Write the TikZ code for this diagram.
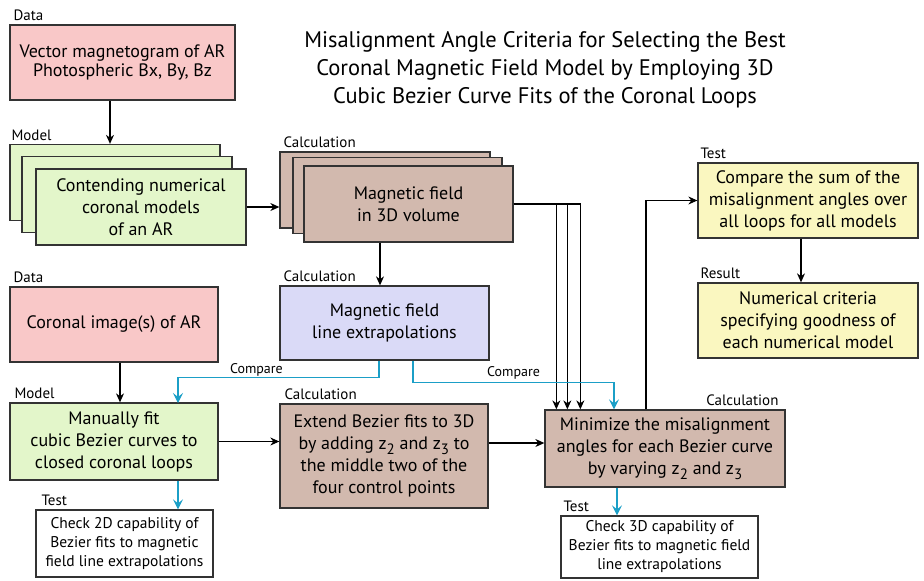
\documentclass[tikz,border=0pt]{standalone}
\usepackage{fontspec}
\setmainfont{PT Sans}
\usetikzlibrary{positioning, calc, arrows.meta}

\definecolor{pinkbox}{HTML}{F9C8C8}
\definecolor{greenbox}{HTML}{E3F6CA}
\definecolor{brownbox}{HTML}{D2B9AE}
\definecolor{lavbox}{HTML}{DADAF7}
\definecolor{yellowbox}{HTML}{FAF7C0}
\definecolor{cmpblue}{HTML}{1B9FC7}

\newcommand{\lowidx}[1]{\raisebox{-0.55ex}{\fontsize{15}{15}\selectfont #1}}

\begin{document}
\begin{tikzpicture}[
            x=1pt, y=-1pt,
            >={Stealth[length=9pt, width=8pt]},
            box/.style={rectangle, draw=black!80, line width=1.3pt, align=center, inner sep=2pt, font=\fontsize{18}{22}\selectfont},
            databox/.style={box, fill=pinkbox},
            modelbox/.style={box, fill=greenbox},
            calcbox/.style={box, fill=brownbox},
            linebox/.style={box, fill=lavbox},
            testbox/.style={box, fill=yellowbox},
            checkbox/.style={box, fill=white, font=\fontsize{15.5}{19}\selectfont},
            tag/.style={font=\fontsize{15}{17}\selectfont, inner sep=1pt, anchor=south west},
            flow/.style={->, line width=1.1pt},
            cmp/.style={->, line width=1.1pt, draw=cmpblue, >={Stealth[length=10pt, width=10pt, inset=4pt]}}
        ]
            \useasboundingbox (0,0) rectangle (924,581);

            % --- 1. title ---
            \node[align=center, font=\fontsize{22.5}{28}\selectfont] (title) at (545,70)
              {Misalignment Angle Criteria for Selecting the Best\\Coronal Magnetic Field Model by Employing 3D\\Cubic Bezier Curve Fits  of the Coronal Loops};

            % --- 2. boxes ---
            \node[databox, minimum width=225pt, minimum height=75pt, font=\fontsize{18}{19.5}\selectfont] (vecmag) at (122.5,62.5) {Vector magnetogram of AR\\Photospheric Bx, By, Bz};

            \node[modelbox, minimum width=210pt, minimum height=76pt] (models3) at (115,182.5) {};
            \node[modelbox, minimum width=210pt, minimum height=76pt] (models2) at (127,194.5) {};
            \node[modelbox, minimum width=210pt, minimum height=76pt] (models) at (141,207) {Contending numerical\\coronal models\\of an AR};

            \node[calcbox, minimum width=210pt, minimum height=76pt] (bfield3) at (385,190) {};
            \node[calcbox, minimum width=209pt, minimum height=76pt] (bfield2) at (397.5,195.5) {};
            \node[calcbox, minimum width=209pt, minimum height=76pt] (bfield) at (408.5,204) {Magnetic field\\in 3D volume};

            \node[linebox, minimum width=209pt, minimum height=74pt] (fieldlines) at (384.5,323) {Magnetic field\\line extrapolations};
            \node[databox, minimum width=208pt, minimum height=75pt] (corimg) at (114,324.5) {Coronal image(s)  of AR};

            \node[modelbox, minimum width=208pt, minimum height=77pt] (bezier) at (114,441.5) {Manually fit\\cubic Bezier  curves to\\closed coronal loops};
            \node[calcbox, minimum width=208pt, minimum height=104pt] (extend) at (384,456)
              {Extend Bezier fits to  3D\\by adding z\lowidx{2}  and z\lowidx{3}  to\\the middle  two of the\\four control points};
            \node[calcbox, minimum width=240pt, minimum height=77pt] (minimize) at (665,448.5)
              {Minimize the misalignment\\angles for each Bezier curve\\by varying z\lowidx{2} and  z\lowidx{3}};

            \node[testbox, minimum width=220pt, minimum height=75pt] (compare) at (808,200.5) {Compare the sum of the\\misalignment angles over\\all loops for all models};
            \node[testbox, minimum width=220pt, minimum height=75pt] (criteria) at (808,320.5) {Numerical criteria\\specifying goodness of\\each numerical model};

            \node[checkbox, minimum width=177pt, minimum height=67pt] (check2d) at (124.5,543.5) {Check 2D capability of\\Bezier fits to magnetic\\field line extrapolations};
            \node[checkbox, minimum width=197pt, minimum height=62pt] (check3d) at (659.5,547) {Check 3D capability of\\Bezier fits to  magnetic field\\line extrapolations};

            % --- 3. tags ---
            \node[tag] (tvecmag) at ([xshift=3pt, yshift=2pt]vecmag.north west) {Data};
            \node[tag] (tmodels) at ([xshift=1pt, yshift=2pt]models3.north west) {Model};
            \node[tag] (tbfield) at ([xshift=3pt, yshift=2pt]bfield3.north west) {Calculation};
            \node[tag] (tfieldlines) at ([xshift=3pt, yshift=2pt]fieldlines.north west) {Calculation};
            \node[tag] (tcorimg) at ([xshift=3pt, yshift=2pt]corimg.north west) {Data};
            \node[tag] (tbezier) at ([xshift=4pt, yshift=2pt]bezier.north west) {Model};
            \node[tag] (textend) at ([xshift=4pt, yshift=2pt]extend.north west) {Calculation};
            \node[tag, anchor=south east] (tminimize) at ([xshift=-6pt, yshift=2pt]minimize.north east) {Calculation};
            \node[tag] (tcompare) at ([xshift=2pt, yshift=2pt]compare.north west) {Test};
            \node[tag] (tcriteria) at ([xshift=2pt, yshift=2pt]criteria.north west) {Result};
            \node[tag] (tcheck2d) at ([xshift=5pt, yshift=2pt]check2d.north west) {Test};
            \node[tag] (tcheck3d) at ([xshift=2pt, yshift=2pt]check3d.north west) {Test};

            % --- 4. arrows ---
            \draw[flow] ([xshift=-12.5pt]vecmag.south) -- ([xshift=-5pt]models3.north);
            \draw[flow] (models.east) -- (models.east -| bfield3.west);
            \draw[flow] ([xshift=-28.5pt]bfield.south) -- ([xshift=-4.5pt]fieldlines.north);
            \draw[flow] ([xshift=6pt]corimg.south) -- ([xshift=6pt]bezier.north);
            \draw[flow] (bezier.east) -- (bezier.east -| extend.west);
            \draw[flow] ([yshift=13pt]extend.east) -- ([yshift=13pt]extend.east -| minimize.west);
            \foreach \dx in {12,23,36}
              \draw[flow] (bfield.east) -| ([xshift=\dx pt]minimize.north west);
            \draw[flow] ([xshift=-19pt]minimize.north) |- (compare.west);
            \draw[flow] ([xshift=-7pt]compare.south) -- ([xshift=-7pt]criteria.north);

            % --- 5. compare links ---
            \draw[cmp] ([xshift=-5.5pt]fieldlines.south) -- ++(0,17) coordinate (c1)
              -- node[pos=0.61, above, font=\fontsize{14}{16}\selectfont, inner sep=1pt] {Compare} (c1 -| 178,0) -- (178,403);
            \draw[cmp] ([xshift=28.5pt]fieldlines.south) -- ++(0,22) coordinate (c2)
              -| node[pos=0.25, above, font=\fontsize{14}{16}\selectfont, inner sep=3pt] {Compare} ([xshift=-51pt]minimize.north);
            \draw[cmp] ([xshift=64pt]bezier.south) -- ([xshift=64pt]bezier.south |- check2d.north);
            \draw[cmp] ([xshift=-48pt]minimize.south) -- ([xshift=-48pt]minimize.south |- check3d.north);

        \end{tikzpicture}
\end{document}
